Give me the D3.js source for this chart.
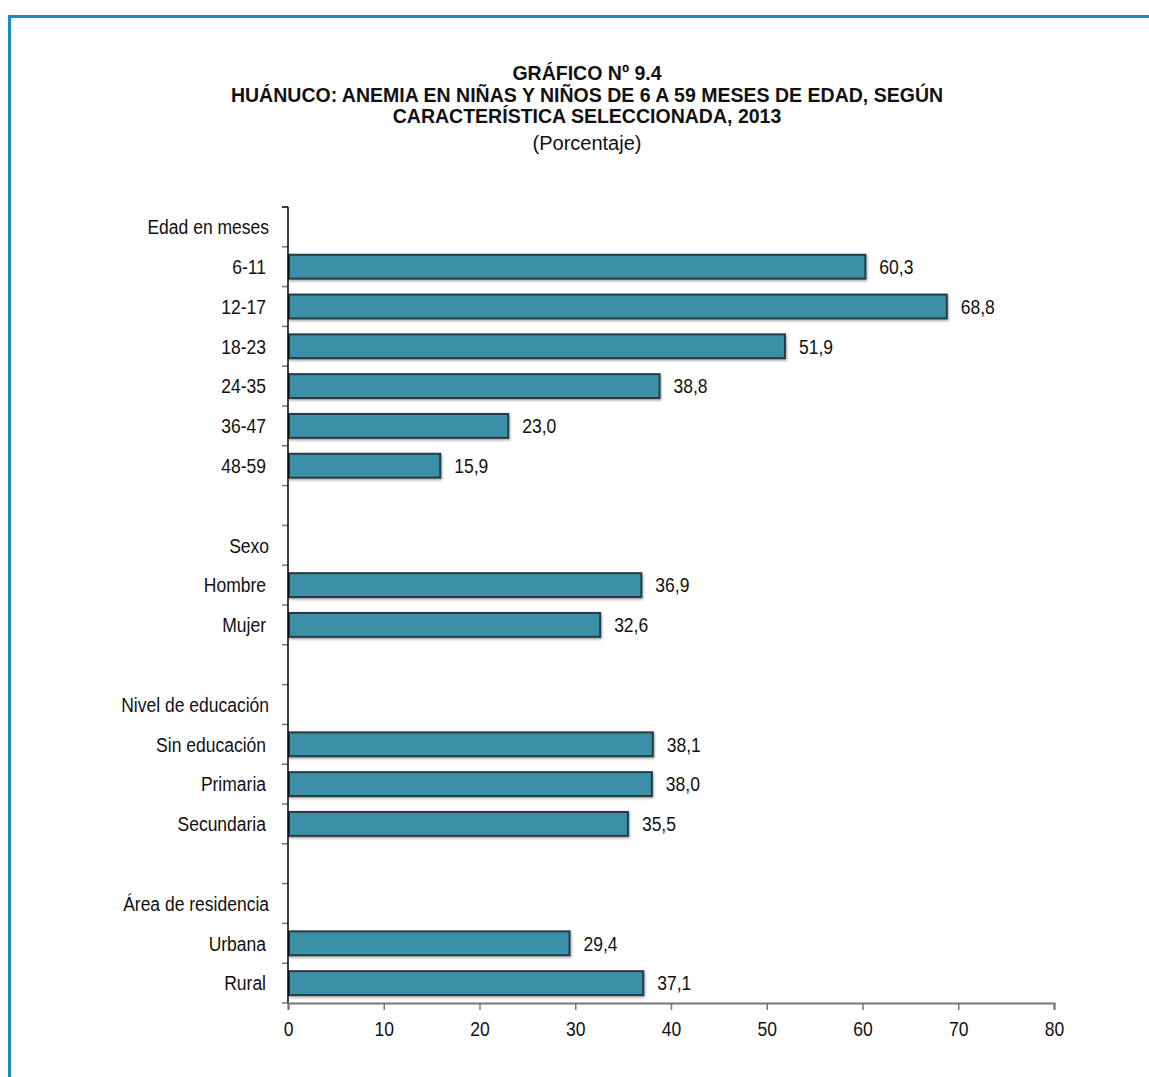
<!DOCTYPE html>
<html>
<head>
<meta charset="utf-8">
<script src="https://cdn.jsdelivr.net/npm/d3@7"></script>
<style>
  html, body { margin: 0; padding: 0; background: #fff; }
  svg { display: block; }
  text { font-family: "Liberation Sans", Arial, sans-serif; fill: #111; }
</style>
</head>
<body>
<svg id="chart" width="1149" height="1077"></svg>
<script>
// Anemia in children 6-59 months, Huánuco 2013 (percent)
const groups = ["Edad en meses", "Sexo", "Nivel de educación", "Área de residencia"];
const groupItems = [
  ["6-11", "12-17", "18-23", "24-35", "36-47", "48-59"],
  ["Hombre", "Mujer"],
  ["Sin educación", "Primaria", "Secundaria"],
  ["Urbana", "Rural"]
];
const groupValues = [
  [60.3, 68.8, 51.9, 38.8, 23.0, 15.9],
  [36.9, 32.6],
  [38.1, 38.0, 35.5],
  [29.4, 37.1]
];
const xTicks = [0, 10, 20, 30, 40, 50, 60, 70, 80];
const titleLines = [
  "GRÁFICO Nº 9.4",
  "HUÁNUCO: ANEMIA EN NIÑAS Y NIÑOS DE 6 A 59 MESES DE EDAD, SEGÚN",
  "CARACTERÍSTICA SELECCIONADA, 2013"
];
const subtitle = "(Porcentaje)";

// Build the row list: group header, its items, then a spacer row between groups
const rows = [];
groups.forEach((g, gi) => {
  rows.push({ key: "h" + gi, label: g, type: "header" });
  groupItems[gi].forEach((it, ii) => {
    rows.push({ key: "i" + gi + "_" + ii, label: it, type: "item", value: groupValues[gi][ii] });
  });
  if (gi < groups.length - 1) rows.push({ key: "s" + gi, label: "", type: "spacer" });
});

const svg = d3.select("#chart");
const fmt = v => d3.format(".1f")(v).replace(".", ",");

// Narrow text: horizontally squeeze glyphs about the anchor point
function narrowText(sel, xPos, yPos, sq) {
  const fx = typeof xPos === "function" ? xPos : () => xPos;
  const fy = typeof yPos === "function" ? yPos : () => yPos;
  sel.attr("x", 0).attr("y", 0)
    .attr("transform", (d, i) => `translate(${fx(d, i)},${fy(d, i)}) scale(${sq},1)`);
  return sel;
}
const SQ = 0.875;
const LABEL_SIZE = 20;

// Outer frame (open at right and bottom)
svg.append("path")
  .attr("d", "M9.5,1077 L9.5,16.5 L1149,16.5")
  .attr("fill", "none")
  .attr("stroke", "#1a8bc6")
  .attr("stroke-width", 3);

// Titles
const cx = 587;
svg.append("g").selectAll("text").data(titleLines).join("text")
  .attr("text-anchor", "middle")
  .attr("font-size", 21).attr("font-weight", "bold")
  .text(d => d)
  .call(narrowText, cx, (d, i) => 80 + i * 21.5, 0.93);
svg.append("text")
  .attr("text-anchor", "middle")
  .attr("font-size", 20)
  .text(subtitle)
  .call(narrowText, cx, 150, 1.0);

const plotLeft = 288, plotRight = 1054, plotTop = 207, plotBottom = 1003;

const x = d3.scaleLinear().domain([0, 80]).range([plotLeft, plotRight]);
const y = d3.scaleBand().domain(rows.map(r => r.key)).range([plotTop, plotBottom]).paddingInner(0.4).paddingOuter(0.2);
const step = y.step();

// Shadow filter for bars
const defs = svg.append("defs");
const f = defs.append("filter").attr("id", "shadow").attr("x", "-5%").attr("y", "-30%").attr("width", "110%").attr("height", "160%");
f.append("feDropShadow").attr("dx", 1).attr("dy", 1.5).attr("stdDeviation", 1).attr("flood-color", "#000").attr("flood-opacity", 0.35);

// Bars
const items = rows.filter(r => r.type === "item");
svg.append("g").selectAll("rect").data(items).join("rect")
  .attr("x", x(0) + 1)
  .attr("y", d => y(d.key))
  .attr("width", d => x(d.value) - x(0) - 1)
  .attr("height", y.bandwidth())
  .attr("fill", "#3a8fa7")
  .attr("stroke", "#253b42")
  .attr("stroke-width", 2)
  .attr("filter", "url(#shadow)");

// Value labels
svg.append("g").selectAll("text").data(items).join("text")
  .attr("dy", "0.36em")
  .attr("font-size", LABEL_SIZE)
  .text(d => fmt(d.value))
  .call(narrowText, d => x(d.value) + 14, d => y(d.key) + y.bandwidth() / 2, SQ);

// Category labels
svg.append("g").selectAll("text").data(rows.filter(r => r.label)).join("text")
  .attr("dy", "0.36em")
  .attr("text-anchor", "end")
  .attr("font-size", LABEL_SIZE)
  .text(d => d.label)
  .call(narrowText, d => d.type === "header" ? 269 : 266, d => y(d.key) + y.bandwidth() / 2, SQ);

// Y axis: line with ticks at row boundaries
const boundaries = d3.range(rows.length + 1).map(i => plotTop + i * step);
const yAxis = svg.append("g");
yAxis.selectAll("line.tick").data(boundaries).join("line")
  .attr("class", "tick")
  .attr("x1", plotLeft - 6).attr("x2", plotLeft)
  .attr("y1", d => d).attr("y2", d => d)
  .attr("stroke", (d, i) => i === 0 ? "#000" : "#777")
  .attr("stroke-width", 1.5);
yAxis.append("line")
  .attr("x1", plotLeft).attr("x2", plotLeft)
  .attr("y1", plotTop).attr("y2", plotBottom)
  .attr("stroke", "#000").attr("stroke-width", 1.5);

// X axis
const xAxis = svg.append("g").attr("transform", `translate(0,${plotBottom})`)
  .call(d3.axisBottom(x).tickValues(xTicks).tickSize(7).tickPadding(12).tickFormat(d3.format("d")));
xAxis.select(".domain").attr("stroke", "#777").attr("stroke-width", 2);
xAxis.selectAll(".tick line").attr("stroke", "#777").attr("stroke-width", 1.5);
xAxis.selectAll(".tick text")
  .attr("font-size", LABEL_SIZE)
  .attr("fill", "#111")
  .style("font-family", "\"Liberation Sans\", Arial, sans-serif")
  .attr("y", 0).attr("dy", "0.71em")
  .attr("transform", `translate(0,19) scale(${SQ},1)`);
</script>
</body>
</html>
